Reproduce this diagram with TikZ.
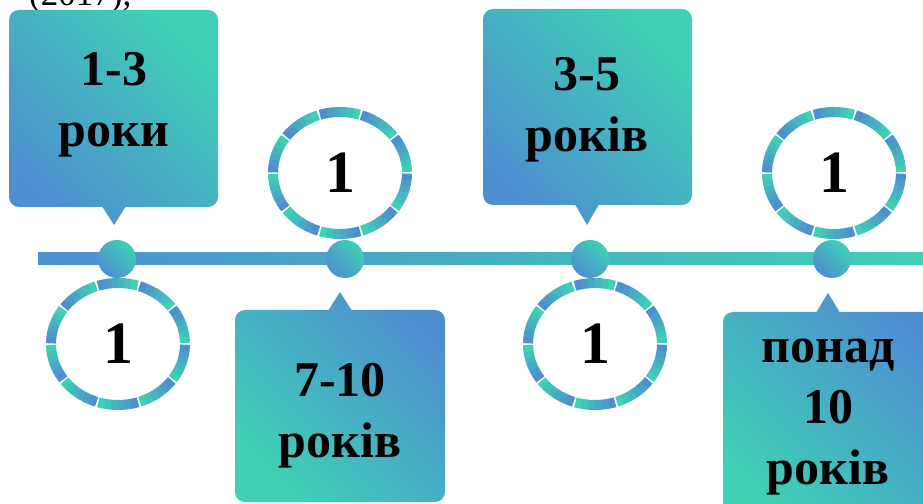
\documentclass[tikz,border=0pt]{standalone}
\usepackage{fontspec}
\setmainfont{Liberation Serif}
\definecolor{tlblue}{RGB}{78,143,208}
\definecolor{tlteal}{RGB}{63,208,181}

\begin{document}
\begin{tikzpicture}[
    x=1pt,
    y=1pt,
    dot/.style={
        circle,
        top color=tlblue,
        bottom color=tlteal,
        shading angle=135,
        inner sep=0pt,
        minimum size=38pt,
    },
    upbox/.style={
        top color=tlblue,
        bottom color=tlteal,
        shading angle=135,
    },
    downbox/.style={
        top color=tlblue,
        bottom color=tlteal,
        shading angle=-45,
    },
    ringseg/.style={
        line width=10pt,
        line cap=butt,
    },
    txt/.style={
        font=\bfseries\fontsize{50}{61}\selectfont,
        align=center,
        inner sep=0pt,
    },
    num/.style={
        font=\bfseries\fontsize{60}{60}\selectfont,
        inner sep=0pt,
    },
]

\useasboundingbox (0,0) rectangle (923,503);
\clip (0,0) rectangle (923,503);

\node[anchor=base west, inner sep=0pt, font=\fontsize{35}{40}\selectfont] (yr) at (29,497.5) {(2017),};

\coordinate (tlstart) at (38,244);
\coordinate (tlend) at (930,244);
\shade[left color=tlblue, right color=tlteal] ([yshift=-6pt]tlstart) rectangle ([yshift=6pt]tlend);

\shade[upbox] [rounded corners=10pt] (9,296) rectangle (218,493)
    [sharp corners] (128,300) -- (114,278) -- (100,300) -- cycle;
\shade[upbox] [rounded corners=10pt] (483,298) rectangle (692,494)
    [sharp corners] (601,302) -- (587,278) -- (573,302) -- cycle;
\shade[downbox] [rounded corners=10pt] (235,1) rectangle (445,193)
    [sharp corners] (326,189) -- (340,211) -- (354,189) -- cycle;
\shade[downbox] [rounded corners=10pt] (723,-20) rectangle (935,191)
    [sharp corners] (814,187) -- (828,210) -- (842,187) -- cycle;

\node[txt] (t1) at (114,398) {1-3\\роки};
\node[txt] (t3) at (587,393) {3-5\\років};
\node[txt] (t2) at (340,87) {7-10\\років};
\node[txt] (t4) at (828,86) {понад\\10\\років};

\node[num] (r1) at (118,159) {1};
\node[num] (r2) at (340,330) {1};
\node[num] (r3) at (595,159) {1};
\node[num] (r4) at (834,330) {1};

\foreach \c in {r1,r2,r3,r4} {
    \foreach \s in {0,36,...,324} {
        \foreach \k in {0,...,5} {
            \pgfmathsetmacro\a{\s+1+\k*34/6}
            \pgfmathsetmacro\b{\a+34/6+0.4}
            \pgfmathtruncatemacro\p{100-\k*20}
            \draw[ringseg, tlteal!\p!tlblue] (\c) ++(\a:67pt and 61pt)
                arc[start angle=\a, end angle=\b, x radius=67pt, y radius=61pt];
        }
    }
}

\node[dot] (d1) at (117,244) {};
\node[dot] (d2) at (345,244) {};
\node[dot] (d3) at (590,244) {};
\node[dot] (d4) at (832,244) {};

\end{tikzpicture}
\end{document}
